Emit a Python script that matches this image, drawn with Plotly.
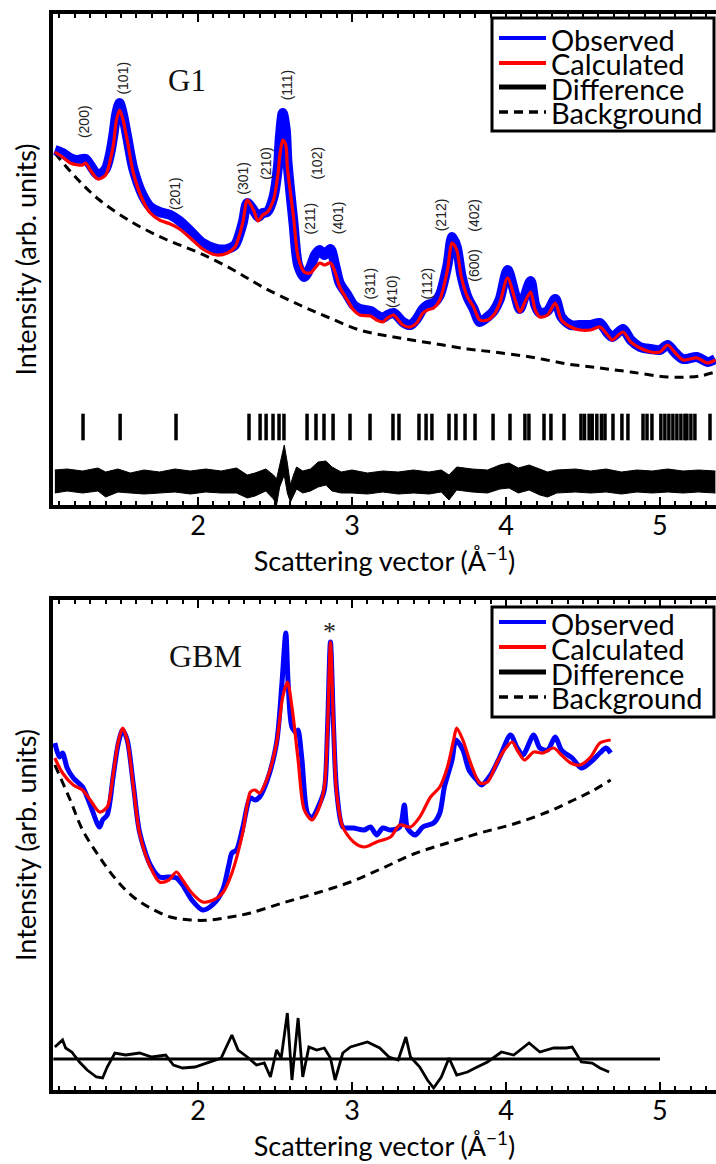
import plotly.graph_objects as go

# ------------------------------------------------------------------
# Data (q in 1/Angstrom, intensity in arb. units)
# ------------------------------------------------------------------
# ---- G1 panel ----
g1_q = [1.07, 1.12, 1.17, 1.22, 1.25, 1.27, 1.30, 1.35, 1.40, 1.43,
        1.45, 1.47, 1.49, 1.51, 1.54, 1.58, 1.64, 1.69, 1.75, 1.82,
        1.88, 1.95, 2.03, 2.12, 2.19, 2.24, 2.29, 2.32, 2.36, 2.39,
        2.42, 2.45, 2.49, 2.52, 2.53, 2.55, 2.57, 2.58, 2.62, 2.65,
        2.69, 2.73, 2.76, 2.79, 2.82, 2.86, 2.89, 2.92, 2.97, 3.01,
        3.05, 3.12, 3.16, 3.20, 3.23, 3.27, 3.30, 3.33, 3.38, 3.42,
        3.46, 3.49, 3.53, 3.57, 3.62, 3.65, 3.68, 3.71, 3.75, 3.79,
        3.83, 3.88, 3.92, 3.96, 4.01, 4.06, 4.09, 4.12, 4.16, 4.19,
        4.22, 4.27, 4.32, 4.36, 4.42, 4.48, 4.55, 4.61, 4.66, 4.69,
        4.76, 4.81, 4.87, 4.94, 5.00, 5.05, 5.10, 5.15, 5.24, 5.31,
        5.36]
g1_calc = [353, 348, 342, 340, 340, 342, 335, 326, 330, 345,
           360, 385, 395, 387, 365, 332, 305, 292, 285, 281,
           276, 267, 256, 250, 252, 258, 282, 305, 295, 284,
           290, 293, 305, 332, 348, 365, 360, 338, 288, 248,
           233, 232, 237, 242, 240, 242, 233, 218, 205, 195,
           190, 189, 185, 183, 187, 190, 185, 180, 178, 182,
           192, 195, 197, 205, 235, 262, 255, 228, 208, 198,
           185, 185, 190, 202, 227, 205, 193, 202, 213, 195,
           188, 190, 202, 185, 178, 175, 175, 178, 170, 165,
           173, 163, 157, 153, 153, 160, 152, 145, 147, 142,
           145]
g1_obs = [355, 352, 347, 345, 346, 346, 340, 330, 336, 352,
          370, 392, 402, 392, 368, 336, 310, 298, 293, 290,
          284, 274, 262, 256, 256, 260, 282, 302, 295, 288,
          292, 293, 308, 340, 365, 392, 375, 345, 282, 240,
          228, 238, 250, 255, 250, 256, 240, 222, 210, 200,
          196, 194, 190, 187, 190, 192, 188, 183, 180, 186,
          196, 200, 202, 210, 240, 268, 258, 230, 208, 196,
          183, 188, 194, 206, 235, 210, 196, 208, 224, 200,
          192, 194, 206, 188, 180, 180, 180, 182, 172, 168,
          176, 165, 158, 156, 155, 160, 152, 146, 148, 143,
          146]
g1_bg_q = [1.07, 1.21, 1.36, 1.58, 1.80, 2.01, 2.23, 2.42, 2.66, 2.84,
           3.05, 3.27, 3.51, 3.75, 3.92, 4.16, 4.40, 4.61, 4.81, 5.05,
           5.18, 5.26, 5.36]
g1_bg = [352, 327, 305, 282, 265, 252, 235, 218, 200, 188,
         175, 168, 162, 156, 153, 148, 141, 137, 133, 128,
         128, 129, 133]
# difference curve: upper / lower edge of the noisy band
g1_diff_q = [1.07, 1.15, 1.25, 1.35, 1.40, 1.48, 1.56, 1.65, 1.75, 1.85,
             1.95, 2.05, 2.15, 2.25, 2.32, 2.37, 2.44, 2.49, 2.51, 2.53,
             2.56, 2.58, 2.60, 2.62, 2.64, 2.68, 2.73, 2.78, 2.83, 2.87,
             2.93, 3.00, 3.10, 3.20, 3.30, 3.40, 3.50, 3.58, 3.63, 3.68,
             3.78, 3.88, 3.96, 4.02, 4.08, 4.15, 4.22, 4.27, 4.33, 4.45,
             4.55, 4.65, 4.75, 4.85, 4.95, 5.05, 5.15, 5.25, 5.36]
g1_diff_hi = [35, 36, 34, 37, 33, 36, 32, 35, 33, 36,
              34, 36, 34, 37, 30, 32, 36, 30, 26, 40,
              60, 42, 20, 30, 38, 34, 36, 43, 44, 38,
              33, 35, 32, 34, 33, 35, 33, 35, 30, 38,
              36, 35, 40, 42, 37, 40, 36, 33, 35, 36,
              34, 36, 33, 35, 34, 36, 34, 35, 34]
g1_diff_lo = [12, 14, 12, 14, 8, 13, 12, 11, 12, 13,
              11, 13, 12, 12, 7, 9, 14, 6, 0, 18,
              30, 12, 3, 10, 16, 12, 14, 18, 20, 14,
              12, 12, 11, 13, 11, 12, 11, 13, 5, 15,
              13, 12, 16, 17, 12, 15, 10, 8, 12, 13,
              12, 13, 11, 13, 12, 13, 12, 13, 12]
# Bragg reflection positions (tick row)
g1_bragg_q = [1.253, 1.494, 1.857, 2.331, 2.403, 2.442, 2.487, 2.526, 2.558,
              2.708, 2.766, 2.818, 2.877, 2.987, 3.117, 3.266, 3.305, 3.435,
              3.481, 3.519, 3.630, 3.675, 3.734, 3.799, 3.916, 4.026, 4.123,
              4.149, 4.247, 4.292, 4.377, 4.487, 4.510, 4.540, 4.560, 4.590,
              4.620, 4.643, 4.695, 4.753, 4.792, 4.890, 4.916, 4.948, 5.006,
              5.032, 5.058, 5.084, 5.110, 5.136, 5.162, 5.175, 5.201, 5.227,
              5.325]
g1_bragg_level = 78
# Miller-index labels
g1_hkl = ["(200)", "(101)", "(201)", "(301)", "(210)", "(111)", "(102)", "(211)",
          "(401)", "(311)", "(410)", "(112)", "(212)", "(402)", "(600)"]
g1_hkl_q = [1.26, 1.51, 1.85, 2.29, 2.44, 2.58, 2.77, 2.73,
            2.91, 3.12, 3.26, 3.49, 3.58, 3.79, 3.79]
g1_hkl_y = [383, 427, 312, 327, 342, 420, 342, 287,
            287, 222, 213, 222, 290, 290, 240]

# ---- GBM panel ----
gbm_q = [1.07, 1.12, 1.19, 1.25, 1.30, 1.36, 1.41, 1.45, 1.48, 1.51,
         1.54, 1.58, 1.62, 1.69, 1.75, 1.81, 1.86, 1.90, 1.96, 2.03,
         2.10, 2.16, 2.22, 2.29, 2.34, 2.37, 2.40, 2.45, 2.51, 2.55,
         2.58, 2.61, 2.65, 2.69, 2.74, 2.78, 2.82, 2.84, 2.86, 2.88,
         2.90, 2.94, 3.01, 3.08, 3.16, 3.25, 3.31, 3.38, 3.44, 3.51,
         3.57, 3.62, 3.66, 3.68, 3.72, 3.77, 3.83, 3.88, 3.94, 3.99,
         4.04, 4.08, 4.12, 4.18, 4.24, 4.31, 4.36, 4.42, 4.48, 4.55,
         4.61, 4.68]
gbm_calc = [332, 317, 305, 300, 290, 278, 283, 317, 347, 362,
            350, 303, 257, 223, 208, 210, 218, 210, 197, 188,
            190, 197, 217, 257, 298, 300, 297, 312, 347, 393,
            408, 383, 330, 280, 270, 280, 303, 357, 448, 363,
            297, 263, 248, 243, 248, 253, 265, 263, 273, 293,
            303, 323, 350, 362, 350, 327, 307, 308, 327, 340,
            348, 338, 330, 338, 337, 342, 335, 327, 325, 333,
            347, 350]
gbm_obs_q = [1.07, 1.10, 1.12, 1.15, 1.19, 1.25, 1.30, 1.36, 1.38, 1.41,
             1.45, 1.48, 1.51, 1.54, 1.58, 1.62, 1.69, 1.75, 1.81, 1.86,
             1.90, 1.96, 2.03, 2.10, 2.16, 2.20, 2.22, 2.25, 2.29, 2.34,
             2.37, 2.40, 2.45, 2.51, 2.545, 2.57, 2.585, 2.61, 2.64, 2.65,
             2.675, 2.71, 2.74, 2.78, 2.82, 2.84, 2.86, 2.88, 2.90, 2.94,
             2.98, 3.01, 3.08, 3.12, 3.16, 3.20, 3.25, 3.31, 3.34, 3.36,
             3.41, 3.46, 3.53, 3.57, 3.60, 3.65, 3.675, 3.72, 3.76, 3.81,
             3.84, 3.90, 3.96, 4.03, 4.07, 4.11, 4.18, 4.22, 4.27, 4.32,
             4.36, 4.43, 4.49, 4.55, 4.61, 4.65, 4.68]
gbm_obs = [347, 333, 337, 322, 312, 303, 285, 263, 270, 275,
           315, 345, 360, 350, 305, 258, 225, 213, 213, 212,
           205, 190, 180, 186, 200, 225, 237, 240, 262, 292,
           290, 293, 310, 347, 407, 457, 407, 363, 357, 360,
           330, 277, 272, 283, 300, 357, 448, 363, 300, 263,
           262, 262, 260, 263, 255, 262, 260, 263, 285, 262,
           255, 263, 267, 277, 303, 330, 350, 340, 320, 310,
           305, 315, 333, 355, 343, 335, 355, 342, 340, 353,
           340, 332, 322, 328, 337, 342, 337]
gbm_bg_q = [1.07, 1.17, 1.25, 1.36, 1.47, 1.58, 1.69, 1.82, 1.95, 2.08,
            2.21, 2.34, 2.55, 2.77, 2.99, 3.20, 3.40, 3.62, 3.83, 4.05,
            4.27, 4.44, 4.56, 4.68]
gbm_bg = [325, 290, 260, 233, 210, 193, 182, 173, 170, 170,
          173, 177, 187, 197, 208, 222, 236, 247, 257, 266,
          278, 290, 299, 310]
gbm_diff_q = [1.07, 1.12, 1.14, 1.18, 1.23, 1.28, 1.34, 1.38, 1.41, 1.46,
              1.53, 1.62, 1.70, 1.79, 1.84, 1.90, 1.98, 2.06, 2.15, 2.22,
              2.26, 2.32, 2.38, 2.43, 2.47, 2.51, 2.54, 2.58, 2.61, 2.65,
              2.68, 2.72, 2.77, 2.82, 2.86, 2.89, 2.94, 2.99, 3.10, 3.18,
              3.24, 3.30, 3.35, 3.38, 3.44, 3.49, 3.53, 3.58, 3.63, 3.68,
              3.75, 3.80, 3.88, 3.97, 4.05, 4.15, 4.22, 4.31, 4.39, 4.43,
              4.49, 4.56, 4.61, 4.67]
gbm_diff = [43, 50, 42, 38, 28, 20, 13, 12, 23, 37,
            35, 37, 33, 35, 25, 22, 23, 27, 32, 55,
            40, 33, 25, 27, 13, 40, 32, 77, 10, 72,
            13, 43, 40, 42, 32, 10, 37, 43, 48, 42,
            33, 30, 53, 33, 23, 10, 2, 13, 32, 15,
            18, 22, 28, 38, 35, 47, 38, 42, 42, 43,
            28, 27, 22, 18]
gbm_zero_q = [1.06, 5.0]
gbm_zero = [31, 31]

legend_labels = ["Observed", "Calculated", "Difference", "Background"]

# ------------------------------------------------------------------
# Layout geometry
# ------------------------------------------------------------------
W, H = 716, 1164
ML, MR, MT, MB = 53, 0, 14, 74
PW = W - ML - MR
PH = H - MT - MB


def fx(px):
    return (px - ML) / PW


def fy(py):
    return (H - MB - py) / PH


XR = [1.058, 5.364]
SANS = "Lato"
SERIF = "Liberation Serif"
BLUE, RED, BLACK = "#0000ff", "#ff0000", "#000000"
DASH = "9px,6px"

fig = go.Figure()


def add_panel(xa, ya, obs_q, obs, obs_w, calc_q, calc, bg_q, bg):
    fig.add_trace(go.Scatter(x=bg_q, y=bg, mode="lines", xaxis=xa, yaxis=ya,
                             line=dict(color=BLACK, width=3, dash=DASH, shape="spline"),
                             name="Background", showlegend=False, hoverinfo="skip"))
    fig.add_trace(go.Scatter(x=obs_q, y=obs, mode="lines", xaxis=xa, yaxis=ya,
                             line=dict(color=BLUE, width=obs_w, shape="spline", smoothing=0.8),
                             name="Observed", showlegend=False, hoverinfo="skip"))
    fig.add_trace(go.Scatter(x=calc_q, y=calc, mode="lines", xaxis=xa, yaxis=ya,
                             line=dict(color=RED, width=3.2, shape="spline", smoothing=0.8),
                             name="Calculated", showlegend=False, hoverinfo="skip"))


# G1 (top)
add_panel("x", "y", g1_q, g1_obs, 10, g1_q, g1_calc, g1_bg_q, g1_bg)
fig.add_trace(go.Scatter(x=g1_diff_q, y=g1_diff_lo, mode="lines", xaxis="x", yaxis="y",
                         line=dict(color=BLACK, width=1), showlegend=False, hoverinfo="skip"))
fig.add_trace(go.Scatter(x=g1_diff_q, y=g1_diff_hi, mode="lines", xaxis="x", yaxis="y",
                         line=dict(color=BLACK, width=1), fill="tonexty", fillcolor=BLACK,
                         name="Difference", showlegend=False, hoverinfo="skip"))
fig.add_trace(go.Scatter(x=g1_bragg_q, y=[g1_bragg_level] * len(g1_bragg_q), mode="markers",
                         xaxis="x", yaxis="y",
                         marker=dict(symbol="line-ns", size=19, line=dict(color=BLACK, width=3.5)),
                         showlegend=False, hoverinfo="skip"))

# GBM (bottom)
add_panel("x2", "y2", gbm_obs_q, gbm_obs, 5, gbm_q, gbm_calc, gbm_bg_q, gbm_bg)
fig.add_trace(go.Scatter(x=gbm_zero_q, y=gbm_zero, mode="lines", xaxis="x2", yaxis="y2",
                         line=dict(color=BLACK, width=3), showlegend=False, hoverinfo="skip"))
fig.add_trace(go.Scatter(x=gbm_diff_q, y=gbm_diff, mode="lines", xaxis="x2", yaxis="y2",
                         line=dict(color=BLACK, width=2.8), name="Difference",
                         showlegend=False, hoverinfo="skip"))

# ------------------------------------------------------------------
# Axes
# ------------------------------------------------------------------
xax = dict(range=XR, showline=True, linewidth=3.5, linecolor=BLACK, mirror="ticks",
           ticks="inside", ticklen=8, tickwidth=2.2, tickcolor=BLACK, dtick=1, tick0=0,
           tickfont=dict(family=SANS, size=27, color=BLACK), ticklabelstandoff=-6,
           minor=dict(dtick=0.1, ticks="inside", ticklen=4.5, tickwidth=2, tickcolor=BLACK),
           showgrid=False, zeroline=False,
           title=dict(text="Scattering vector (Å<sup>−1</sup>)",
                      font=dict(family=SANS, size=27, color=BLACK), standoff=8))
yax = dict(showline=True, linewidth=3.5, linecolor=BLACK, mirror=False, ticks="",
           showticklabels=False, showgrid=False, zeroline=False,
           title=dict(text="Intensity (arb. units)",
                      font=dict(family=SANS, size=27, color=BLACK), standoff=6))

top_dom = [fy(505), 1.0]
bot_dom = [0.0, fy(600)]

fig.update_layout(
    width=W, height=H,
    margin=dict(l=ML, r=MR, t=MT, b=MB, autoexpand=False),
    paper_bgcolor="white", plot_bgcolor="white",
    showlegend=False,
    xaxis=dict(xax, anchor="y", domain=[0, 1]),
    yaxis=dict(yax, anchor="x", domain=top_dom, range=[0, 491]),
    xaxis2=dict(xax, anchor="y2", domain=[0, 1]),
    yaxis2=dict(yax, anchor="x2", domain=bot_dom, range=[0, 490]),
)

# ------------------------------------------------------------------
# Annotations: panel names, hkl labels, asterisk
# ------------------------------------------------------------------
ann = []
ann.append(dict(text="G1", x=1.93, y=425, xref="x", yref="y", showarrow=False,
                font=dict(family=SERIF, size=31, color="#111")))
ann.append(dict(text="GBM", x=2.05, y=434, xref="x2", yref="y2", showarrow=False,
                font=dict(family=SERIF, size=32, color="#111")))
ann.append(dict(text="*", x=2.855, y=458, xref="x2", yref="y2", showarrow=False,
                font=dict(family=SERIF, size=26, color="#222")))
for t, q, yv in zip(g1_hkl, g1_hkl_q, g1_hkl_y):
    ann.append(dict(text=t, x=q, y=yv, xref="x", yref="y", showarrow=False, textangle=-90,
                    font=dict(family="Liberation Sans", size=14, color="#222")))

# ------------------------------------------------------------------
# Legends (boxed, tightly spaced like the original)
# ------------------------------------------------------------------
shapes = []
leg_styles = [(BLUE, "solid", 4), (RED, "solid", 4), (BLACK, "solid", 5), (BLACK, DASH, 3.5)]


def add_legend(rows, box_top, box_bot):
    shapes.append(dict(type="rect", xref="paper", yref="paper",
                       x0=fx(492), x1=fx(714), y0=fy(box_bot), y1=fy(box_top),
                       line=dict(color=BLACK, width=3), fillcolor="white", layer="above"))
    for (col, dash, w), lab, r in zip(leg_styles, legend_labels, rows):
        shapes.append(dict(type="line", xref="paper", yref="paper",
                           x0=fx(499), x1=fx(546), y0=fy(r), y1=fy(r),
                           line=dict(color=col, width=w, dash=dash), layer="above"))
        ann.append(dict(text=lab, x=fx(549), y=fy(r + 1), xref="paper", yref="paper",
                        xanchor="left", yanchor="middle", showarrow=False,
                        font=dict(family=SANS, size=29, color=BLACK)))


add_legend([38, 63, 87, 112], 18, 131)
add_legend([622, 647, 672, 697], 607, 717)

fig.update_layout(annotations=ann, shapes=shapes)

fig.write_html("out.html")
